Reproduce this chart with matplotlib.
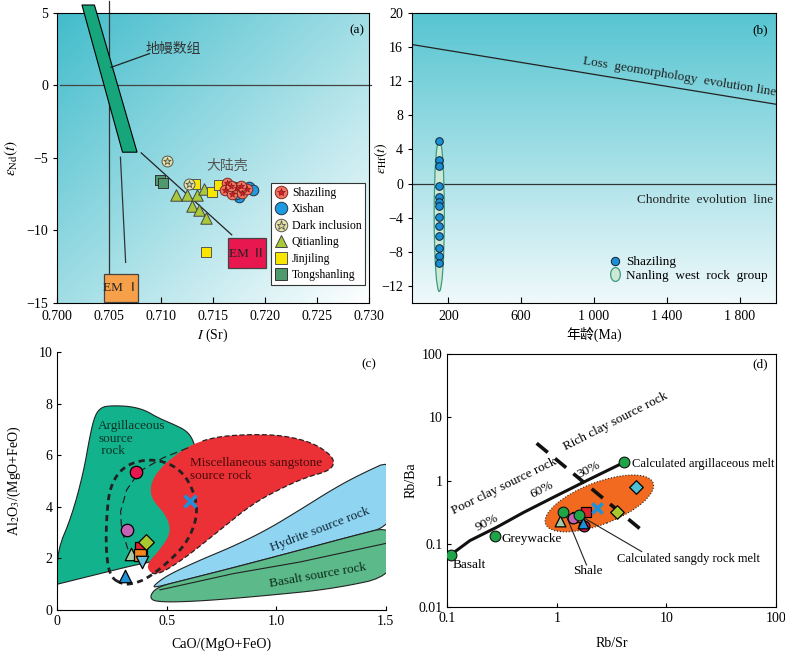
import numpy as np
import matplotlib
matplotlib.use('Agg')
import matplotlib.pyplot as plt
from matplotlib.patches import Polygon, Rectangle, Ellipse
from matplotlib.lines import Line2D
from matplotlib.path import Path
from matplotlib.transforms import Affine2D

plt.rcParams['font.family'] = ['Liberation Serif', 'Noto Sans CJK SC', 'DejaVu Sans']
plt.rcParams['mathtext.fontset'] = 'stix'
plt.rcParams['font.size'] = 9
plt.rcParams['axes.linewidth'] = 0.8
plt.rcParams['xtick.labelsize'] = 10
plt.rcParams['ytick.labelsize'] = 10
plt.rcParams['axes.labelsize'] = 10

# ---------------- (a) I(Sr) vs eNd(t)
sha_x = [0.7163, 0.7162, 0.7168, 0.7173, 0.7178, 0.7183, 0.7177, 0.7167]
sha_y = [-6.7, -7.2, -7.45, -7.1, -7.4, -7.15, -6.95, -6.9]
xis_x = [0.7170, 0.7175, 0.7185, 0.7188, 0.7172]
xis_y = [-7.0, -7.7, -7.0, -7.2, -7.5]
dark_x = [0.7106, 0.7127]
dark_y = [-5.2, -6.8]
qit_x = [0.7114, 0.7125, 0.7135, 0.7141, 0.7130, 0.7137, 0.7143]
qit_y = [-7.55, -7.55, -7.55, -7.15, -8.3, -8.6, -9.15]
jin_x = [0.7133, 0.7149, 0.7156, 0.7143]
jin_y = [-6.8, -7.38, -6.85, -11.5]
ton_x = [0.7099, 0.7102]
ton_y = [-6.5, -6.7]
mantle_band = [(0.7024, 5.55), (0.7036, 5.55), (0.7077, -4.6), (0.7063, -4.6)]

# ---------------- (b) age vs eHf(t)
hf_age = [150] * 13
hf_val = [4.96, 2.8, 2.07, -0.3, -1.56, -2.15, -2.66, -3.9, -5.0, -6.1, -7.6, -8.5, -9.3]
dm_line_x = [0, 2000]
dm_line_y = [16.3, 9.3]

# ---------------- (c) CaO/(MgO+FeO) vs Al2O3/(MgO+FeO)
argil = [(0, 1.0), (0, 2.3), (0.065, 3.62), (0.119, 5.31), (0.15, 6.8), (0.172, 7.55),
         (0.2, 7.85), (0.24, 7.92), (0.33, 7.9), (0.40, 7.75), (0.46, 7.45), (0.53, 7.2),
         (0.59, 6.95), (0.62, 6.6), (0.64, 6.0), (0.63, 4.5), (0.60, 3.2), (0.54, 2.4),
         (0.45, 1.9), (0.347, 1.73), (0.195, 1.41), (0, 1.0)]
sand = [(0.613, 6.42), (0.728, 6.72), (0.88, 6.81), (1.032, 6.77), (1.169, 6.48),
        (1.255, 5.98), (1.265, 5.62), (1.23, 5.36), (1.15, 5.18), (1.047, 4.82),
        (0.895, 4.14), (0.743, 3.1), (0.59, 2.06), (0.48, 1.45), (0.43, 1.38),
        (0.405, 1.75), (0.47, 2.35), (0.52, 3.0), (0.50, 3.65), (0.43, 4.3),
        (0.425, 4.85), (0.46, 5.4), (0.53, 5.95)]
hydr = [(0.435, 0.91), (0.5, 1.34), (0.651, 1.93), (0.804, 2.47), (0.956, 3.1),
        (1.108, 3.88), (1.26, 4.69), (1.382, 5.25), (1.55, 5.9), (1.55, 3.3),
        (1.336, 2.84), (1.108, 2.32), (0.804, 1.64), (0.575, 1.15), (0.454, 0.89)]
basalt = [(0.419, 0.49), (0.454, 0.89), (0.575, 1.15), (0.804, 1.64), (1.108, 2.32),
          (1.336, 2.84), (1.55, 3.3), (1.55, 1.35), (1.26, 0.82), (0.956, 0.56),
          (0.651, 0.34), (0.454, 0.3)]
basalt_inner_x = [0.469, 0.804, 1.108, 1.5]
basalt_inner_y = [0.78, 1.41, 1.86, 2.58]
loop = [(0.301, 0.99), (0.240, 1.28), (0.222, 2.32), (0.225, 3.62), (0.240, 4.79),
        (0.301, 5.57), (0.408, 5.86), (0.514, 5.7), (0.59, 5.18), (0.636, 4.27),
        (0.636, 3.49), (0.59, 2.58), (0.5, 1.8), (0.408, 1.21), (0.347, 1.02)]
trend_x = [0.598, 0.484, 0.377, 0.317, 0.289, 0.294, 0.324]
trend_y = [6.29, 5.9, 5.38, 4.66, 3.82, 3.1, 2.32]

# sample symbols shared by (c) and (d)
c_pts = {
    'crimson': (0.359, 5.34), 'orchid': (0.317, 3.10), 'cross': (0.606, 4.24),
    'tri_grey': (0.336, 2.16), 'tri_blue': (0.309, 1.30), 'sq_red': (0.381, 2.42),
    'sq_orange': (0.377, 2.12), 'dia_green': (0.405, 2.64), 'down_blue': (0.385, 1.86),
}
d_pts = {
    'sq_orange': (1.52, 0.27), 'orchid': (1.40, 0.254), 'crimson': (1.79, 0.192),
    'tri_grey': (1.07, 0.233), 'tri_blue': (1.73, 0.216), 'sq_red': (1.85, 0.324),
    'cross': (2.35, 0.375), 'dia_green': (3.52, 0.324), 'dia_cyan': (5.26, 0.785),
}

# ---------------- (d) Rb/Sr vs Rb/Ba
ref_x = [0.107, 0.272, 4.14, 1.15, 1.6]
ref_y = [0.067, 0.134, 1.95, 0.324, 0.29]
mix_x = [0.107, 0.161, 0.282, 0.495, 1.0, 2.01, 4.14]
mix_y = [0.067, 0.113, 0.183, 0.313, 0.58, 1.06, 1.95]
div_x = [0.655, 6.18]
div_y = [3.89, 0.157]

styles = {
    'crimson': dict(marker='o', c='#e8174f'),
    'orchid': dict(marker='o', c='#c462b4'),
    'cross': dict(marker='x', c='#1e90d8'),
    'tri_grey': dict(marker='^', c='#a6cca8'),
    'tri_blue': dict(marker='^', c='#1e90d8'),
    'sq_red': dict(marker='s', c='#e2242c'),
    'sq_orange': dict(marker='s', c='#f5871f'),
    'dia_green': dict(marker='D', c='#a8c830'),
    'down_blue': dict(marker='v', c='#6ac0e0'),
    'dia_cyan': dict(marker='D', c='#4fc0d4'),
}


def smooth(pts, n=3):
    # corner cutting so the hand-traced outlines look rounded
    p = np.asarray(pts, float)
    for _ in range(n):
        nxt = np.roll(p, -1, 0)
        q = p * 0.75 + nxt * 0.25
        r = p * 0.25 + nxt * 0.75
        p = np.empty((2 * len(q), 2))
        p[0::2] = q
        p[1::2] = r
    return p


def gradient(ax, c0, c1, diag):
    n = 256
    u = np.linspace(0, 1, n)[None, :]
    v = np.linspace(1, 0, n)[:, None]
    if diag:
        t = (u + 1 - v) / 2
    else:
        t = (1 - v) * np.ones_like(u)
    c0 = np.array(c0) / 255.
    c1 = np.array(c1) / 255.
    img = c0[None, None, :] * (1 - t[..., None]) + c1[None, None, :] * t[..., None]
    x0, x1 = ax.get_xlim()
    y0, y1 = ax.get_ylim()
    ax.imshow(img, extent=(x0, x1, y0, y1), aspect='auto', zorder=0, interpolation='bilinear')


def draw_sample(ax, key, x, y, s):
    st = styles[key]
    if st['marker'] == 'x':
        ax.scatter(x, y, marker='x', s=s * 0.9, c=st['c'], linewidths=2.6, zorder=6)
    else:
        ax.scatter(x, y, marker=st['marker'], s=s * (0.8 if st['marker'] == 'D' else 1),
                   c=st['c'], edgecolors='k', linewidths=0.9, zorder=6)


fig = plt.figure(figsize=(7.85, 6.52), dpi=100)

# ====== (a)
ax = fig.add_axes([0.0726, 0.5353, 0.3975, 0.4448])
ax.set_xlim(0.700, 0.730)
ax.set_ylim(-15, 5)
gradient(ax, (66, 188, 203), (255, 255, 255), True)
ax.add_patch(Polygon(mantle_band, closed=True, fc='#17a57b', ec='k', lw=0.8, zorder=3, clip_on=False))
ax.plot([0.705, 0.705], [5.8, -13.0], c='#333', lw=0.9, zorder=2, clip_on=False)
ax.plot([0.7003, 0.7302], [0, 0], c='#444', lw=0.9, zorder=2, clip_on=False)
ax.plot([0.7061, 0.7066], [-4.95, -12.2], c='#333', lw=0.9, zorder=2)
ax.plot([0.7081, 0.7168], [-4.65, -10.3], c='#222', lw=0.9, zorder=2)
ax.plot([0.7052, 0.7089], [1.25, 2.2], c='#222', lw=0.9, zorder=4)
ax.text(0.7085, 2.5, '地幔数组', fontsize=10, color='#333', va='center', ha='left',
        family=['Noto Sans CJK SC'])
ax.text(0.7144, -5.55, '大陆壳', fontsize=10, color='#555', va='center', ha='left',
        family=['Noto Sans CJK SC'])
ax.add_patch(Rectangle((0.7045, -14.95), 0.0033, 1.95, fc='#f7a04a', ec='#444', lw=0.9, zorder=3))
ax.text(0.70615, -13.97, 'EM Ⅰ', ha='center', va='center', fontsize=9.5, color='#222', zorder=4)
ax.add_patch(Rectangle((0.7164, -12.6), 0.0037, 2.1, fc='#e8174f', ec='#444', lw=0.9, zorder=3))
ax.text(0.71825, -11.6, 'EM Ⅱ', ha='center', va='center', fontsize=9.5, color='#222', zorder=4)

ax.scatter(xis_x, xis_y, s=58, c='#1e9be0', edgecolors='#234', linewidths=0.7, zorder=5)
ax.scatter(sha_x, sha_y, s=58, c='#f27462', edgecolors='#7a2a20', linewidths=0.7, zorder=6)
ax.scatter(sha_x, sha_y, s=22, marker='*', c='#d0202c', edgecolors='#801010', linewidths=0.4, zorder=7)
ax.scatter(ton_x, ton_y, s=50, marker='s', c='#4f9a6c', edgecolors='#333', linewidths=0.7, zorder=5)
ax.scatter(dark_x, dark_y, s=62, c='#e6e3a4', edgecolors='#555', linewidths=0.7, zorder=6)
ax.scatter(dark_x, dark_y, s=30, marker='*', c='#d5d79a', edgecolors='#555', linewidths=0.6, zorder=7)
ax.scatter(qit_x, qit_y, s=68, marker='^', c='#a9c93b', edgecolors='#444', linewidths=0.7, zorder=5)
ax.scatter(jin_x, jin_y, s=50, marker='s', c='#f8e600', edgecolors='#555', linewidths=0.7, zorder=5)

hd = [
    (Line2D([], [], ls='', marker='o', ms=9, mfc='#f27462', mec='#7a2a20', mew=0.7),
     Line2D([], [], ls='', marker='*', ms=6, mfc='#d0202c', mec='#801010', mew=0.4)),
    Line2D([], [], ls='', marker='o', ms=9, mfc='#1e9be0', mec='#234', mew=0.7),
    (Line2D([], [], ls='', marker='o', ms=9, mfc='#e6e3a4', mec='#555', mew=0.7),
     Line2D([], [], ls='', marker='*', ms=6.5, mfc='#d5d79a', mec='#555', mew=0.6)),
    Line2D([], [], ls='', marker='^', ms=9, mfc='#a9c93b', mec='#444', mew=0.7),
    Line2D([], [], ls='', marker='s', ms=8, mfc='#f8e600', mec='#555', mew=0.7),
    Line2D([], [], ls='', marker='s', ms=8, mfc='#4f9a6c', mec='#333', mew=0.7),
]
lab = ['Shaziling', 'Xishan', 'Dark inclusion', 'Qitianling', 'Jinjiling', 'Tongshanling']
leg = ax.legend(hd, lab, loc='lower right', bbox_to_anchor=(0.988, 0.063), borderaxespad=0,
                fontsize=8.5, frameon=True, fancybox=False, edgecolor='#333', framealpha=1,
                labelspacing=0.38, handletextpad=0.3, borderpad=0.3, handlelength=1.2)
leg.get_frame().set_linewidth(0.8)
leg.set_zorder(8)
ax.text(0.962, 0.939, '(a)', transform=ax.transAxes, ha='center', va='center', fontsize=9.5)
ax.set_xticks([0.700, 0.705, 0.710, 0.715, 0.720, 0.725, 0.730])
ax.set_xticklabels(['0.700', '0.705', '0.710', '0.715', '0.720', '0.725', '0.730'])
ax.set_yticks([5, 0, -5, -10, -15])
ax.tick_params(axis='x', direction='in', length=4, pad=5)
ax.tick_params(axis='y', direction='out', length=3)
ax.set_xlabel(r'$I$ (Sr)')
ax.set_ylabel(r'$\varepsilon_{\rm Nd}(t)$', fontsize=11)
ax.xaxis.set_label_coords(0.5, -0.083)
ax.yaxis.set_label_coords(-0.119, 0.5)

# ====== (b)
ax = fig.add_axes([0.5248, 0.5353, 0.4637, 0.4448])
ax.set_xlim(0, 2000)
ax.set_ylim(-14, 20)
gradient(ax, (86, 197, 209), (240, 249, 251), False)
ax.plot(dm_line_x, dm_line_y, c='#222', lw=0.9, zorder=2)
ax.axhline(0, c='#333', lw=0.9, zorder=2)
ax.text(1470, 12.45, 'Loss  geomorphology  evolution line', rotation=-9.3, ha='center',
        va='center', fontsize=9.5, color='#222')
ax.text(1985, -1.9, 'Chondrite  evolution  line', ha='right', va='center', fontsize=9.5, color='#222')
ax.add_patch(Ellipse((150, -3.7), 56, 17.9, fc='#cde8d4', ec='#3a9c80', lw=0.9, zorder=3))
ax.scatter(hf_age, hf_val, s=30, c='#1b8fd6', edgecolors='#123', linewidths=0.7, zorder=5)
egg = Path(Path.unit_circle().vertices * np.array([0.7, 1.0]), Path.unit_circle().codes)
hb = [Line2D([], [], ls='', marker='o', ms=6, mfc='#1b8fd6', mec='#123', mew=0.7),
      Line2D([], [], ls='', marker=egg, ms=10, mfc='#cde8d4', mec='#3a9c80', mew=0.9)]
ax.legend(hb, ['Shaziling', 'Nanling  west  rock  group'], loc='lower right',
          bbox_to_anchor=(1.0, 0.045), frameon=False, fontsize=9.5, labelspacing=0.1,
          handletextpad=0.3, handlelength=1.2, borderaxespad=0.2)
ax.text(0.958, 0.939, '(b)', transform=ax.transAxes, ha='center', va='center', fontsize=9.5)
ax.set_xticks([200, 600, 1000, 1400, 1800])
ax.set_xticklabels(['200', '600', '1 000', '1 400', '1 800'])
ax.set_yticks([-12, -8, -4, 0, 4, 8, 12, 16, 20])
ax.tick_params(axis='x', direction='in', length=4, pad=5)
ax.tick_params(axis='y', direction='out', length=3)
ax.set_xlabel('年龄(Ma)')
ax.set_ylabel(r'$\varepsilon_{\rm Hf}(t)$')
ax.xaxis.set_label_coords(0.5, -0.083)
ax.yaxis.set_label_coords(-0.06, 0.5)

# ====== (c)
ax = fig.add_axes([0.073, 0.0644, 0.4183, 0.3957])
ax.set_xlim(0, 1.5)
ax.set_ylim(0, 10)
for s in ['top', 'right']:
    ax.spines[s].set_visible(False)
ax.add_patch(Polygon(smooth(argil, 2), closed=True, fc='#12b28c', ec='#222', lw=0.8, zorder=1))
sp = smooth(sand, 3)
ax.add_patch(Polygon(sp, closed=True, fc='#eb3036', ec='none', zorder=2))
ax.plot(sp[0:14 * 8, 0], sp[0:14 * 8, 1], c='#222', lw=0.9, ls=(0, (4, 2)), zorder=3)
ax.add_patch(Polygon(smooth(hydr, 3), closed=True, fc='#8fd4f1', ec='#222', lw=0.8, zorder=2))
ax.add_patch(Polygon(smooth(basalt, 3), closed=True, fc='#5cb98a', ec='#222', lw=0.8, zorder=2))
ax.plot(basalt_inner_x, basalt_inner_y, c='#222', lw=0.8, zorder=3)
lp = smooth(loop, 3)
lp = np.vstack([lp, lp[:1]])
ax.plot(lp[:, 0], lp[:, 1], c='#222', lw=2.0, ls=(0, (2.2, 1.6)), zorder=4)
ax.plot(trend_x, trend_y, c='#222', lw=0.9, ls=(0, (6, 3.5)), zorder=4)
for k, (x, y) in c_pts.items():
    draw_sample(ax, k, x, y, 80)
ax.text(0.187, 7.35, 'Argillaceous\nsource\n rock', ha='left', va='top', fontsize=9.5,
        color='#0d3325', linespacing=1.05)
ax.text(0.606, 5.45, 'Miscellaneous sangstone\nsource rock', ha='left', va='center',
        fontsize=9.5, color='#4a0a0a', linespacing=1.05)
ax.text(1.2, 3.1, 'Hydrite source rock', rotation=21, ha='center', va='center',
        fontsize=9.5, color='#102838')
ax.text(1.19, 1.35, 'Basalt source rock', rotation=10, ha='center', va='center',
        fontsize=9.5, color='#0d2a1a')
ax.text(0.95, 0.952, '(c)', transform=ax.transAxes, ha='center', va='center', fontsize=9.5)
ax.set_xticks([0, 0.5, 1.0, 1.5])
ax.set_xticklabels(['0', '0.5', '1.0', '1.5'])
ax.set_yticks([0, 2, 4, 6, 8, 10])
ax.tick_params(direction='in', length=3)
ax.set_xlabel('CaO/(MgO+FeO)')
ax.set_ylabel(r'Al$_2$O$_3$/(MgO+FeO)')
ax.xaxis.set_label_coords(0.5, -0.105)
ax.yaxis.set_label_coords(-0.104, 0.5)

# ====== (d)
ax = fig.add_axes([0.5698, 0.0686, 0.4183, 0.3885])
ax.set_xscale('log')
ax.set_yscale('log')
ax.set_xlim(0.1, 100)
ax.set_ylim(0.01, 100)
wpx, hpx = 328.4, 253.3
ax.add_patch(Ellipse((0.463 * wpx, 0.41 * hpx), 115, 42, angle=21, fc='#f26a1f', ec='#222',
                     lw=0.8, ls=':', zorder=1,
                     transform=Affine2D().scale(1 / wpx, 1 / hpx) + ax.transAxes))
ax.plot(mix_x, mix_y, c='#111', lw=2.2, zorder=3, solid_capstyle='round')
ax.plot(div_x, div_y, c='#111', lw=2.6, dashes=(4, 2.6), zorder=3)
ax.plot([1.87, 1.23], [0.0466, 0.27], c='#222', lw=0.8, zorder=4)
ax.plot([5.97, 1.69], [0.0757, 0.27], c='#222', lw=0.8, zorder=4)
for k, (x, y) in d_pts.items():
    draw_sample(ax, k, x, y, 60)
ax.scatter(ref_x, ref_y, s=60, c='#1fa548', edgecolors='#111', linewidths=0.8, zorder=7)
ax.text(4.83, 1.85, 'Calculated argillaceous melt', ha='left', va='center', fontsize=9)
ax.text(0.314, 0.118, 'Greywacke', ha='left', va='center', fontsize=9.5)
ax.text(0.113, 0.047, 'Basalt', ha='left', va='center', fontsize=9.5)
ax.text(1.94, 0.038, 'Shale', ha='center', va='center', fontsize=9.5)
ax.text(3.52, 0.0573, 'Calculated sangdy rock melt', ha='left', va='center', fontsize=9)
ax.text(0.332, 0.80, 'Poor clay source rock', rotation=26, ha='center', va='center', fontsize=9.5)
ax.text(3.47, 8.55, 'Rich clay source rock', rotation=27, ha='center', va='center', fontsize=9.5)
ax.text(0.229, 0.212, '90%', rotation=27, ha='center', va='center', fontsize=9.5)
ax.text(0.728, 0.71, '60%', rotation=27, ha='center', va='center', fontsize=9.5)
ax.text(1.97, 1.48, '30%', rotation=27, ha='center', va='center', fontsize=9.5)
ax.text(0.952, 0.96, '(d)', transform=ax.transAxes, ha='center', va='center', fontsize=9.5)
ax.set_xticks([0.1, 1, 10, 100])
ax.set_xticklabels(['0.1', '1', '10', '100'])
ax.set_yticks([0.01, 0.1, 1, 10, 100])
ax.set_yticklabels(['0.01', '0.1', '1', '10', '100'])
ax.minorticks_off()
ax.tick_params(direction='in', length=3)
ax.set_xlabel('Rb/Sr')
ax.set_ylabel('Rb/Ba')
ax.xaxis.set_label_coords(0.5, -0.116)
ax.yaxis.set_label_coords(-0.092, 0.5)

fig.savefig('out.png', dpi=100)
